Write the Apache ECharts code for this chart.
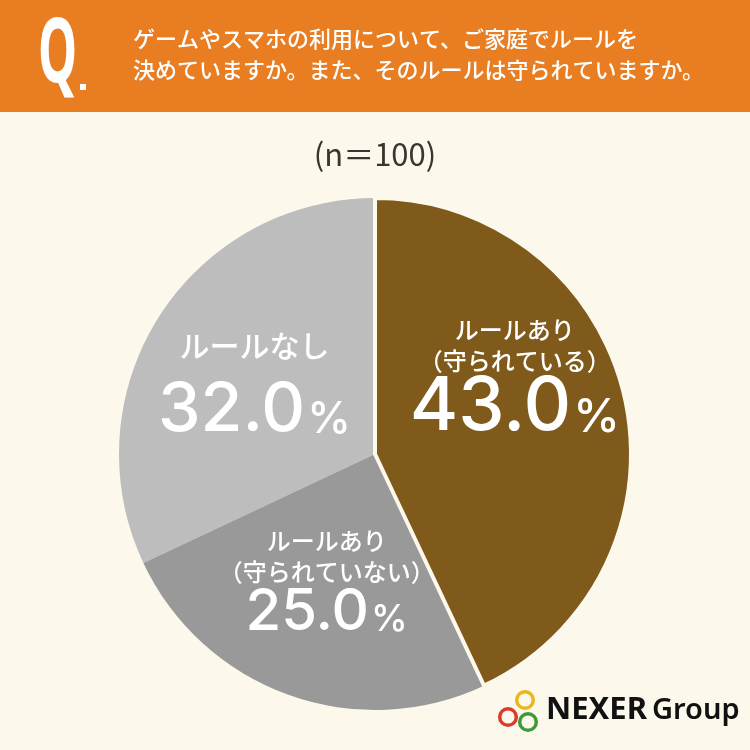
<!DOCTYPE html>
<html>
<head>
<meta charset="utf-8">
<script src="https://cdn.jsdelivr.net/npm/echarts@6/dist/echarts.min.js"></script>
<style>
  html, body { margin: 0; padding: 0; background: #fdf8ec; }
  #main { width: 750px; height: 750px; }
</style>
</head>
<body>
<div id="main"></div>
<script>
// data (drawn counterclockwise from 12 o'clock so the brown slice is painted last)
const names = ['ルールなし', 'ルールあり\n（守られていない）', 'ルールあり\n（守られている）'];
const values = [32.0, 25.0, 43.0];
const colors = ['#bdbdbd', '#999999', '#7f5a1a'];
const questionLines = ['ゲームやスマホの利用について、ご家庭でルールを', '決めていますか。また、そのルールは守られていますか。'];
const sampleText = '(n＝100)';

const BG = '#fdf8ec';
const JP = '"Noto Sans CJK JP", "Noto Sans", sans-serif';
const NUM = 'Inter, "Noto Sans", sans-serif';

// per slice label tweaks
const labelOffsets = [[-10, 2], [-4, 6], [12, -46]];
const nameSize = [30, 24, 24];
const nameLine = [38, 31, 31];
const numSize = [68, 58, 74];
const numLine = [80, 54, 68];
const pctSize = [44, 37, 47];

const chart = echarts.init(document.getElementById('main'));

const seriesData = values.map((v, i) => {
  const nameLines = names[i].split('\n').map(s => '{n' + i + '|' + s + '}').join('\n');
  return {
    name: names[i],
    value: v,
    itemStyle: i === 2
      ? { color: colors[i], borderColor: BG, borderWidth: 4 }
      : { color: colors[i], borderWidth: 0 },
    label: {
      offset: labelOffsets[i],
      formatter: nameLines + '\n{v' + i + '|' + v.toFixed(1) + '}{p' + i + '|%}',
      rich: {
        ['n' + i]: { fontSize: nameSize[i], lineHeight: nameLine[i], color: '#fff', fontFamily: JP, fontWeight: 500 },
        ['v' + i]: { fontSize: numSize[i], lineHeight: numLine[i], color: '#fff', fontFamily: NUM, fontWeight: 500, verticalAlign: 'bottom' },
        ['p' + i]: { fontSize: pctSize[i], lineHeight: numLine[i], color: '#fff', fontFamily: NUM, fontWeight: 500, verticalAlign: 'bottom', padding: [0, 0, 3, 2] }
      }
    }
  };
});

const option = {
  backgroundColor: BG,
  animation: false,
  graphic: [
    { type: 'rect', left: 0, top: 0, shape: { width: 750, height: 112 }, style: { fill: '#e87d22' } },
    { type: 'text', x: 38, y: 11, scaleX: 0.55, style: { text: 'Q', fill: '#fff', font: 'bold 90px "Noto Sans", sans-serif' } },
    { type: 'rect', left: 80, top: 84, shape: { width: 6, height: 6 }, style: { fill: '#fff' } },
    { type: 'text', left: 133, top: 28, style: { text: questionLines[0], fill: '#fff', font: '500 22px ' + JP } },
    { type: 'text', left: 133, top: 59, style: { text: questionLines[1], fill: '#fff', font: '500 22px ' + JP } },
    { type: 'text', left: 'center', top: 139, style: { text: sampleText, fill: '#3a3530', font: '31px ' + JP } },
    // logo
    { type: 'circle', shape: { cx: 525, cy: 700, r: 8.3 }, style: { fill: 'none', stroke: '#e9b61c', lineWidth: 3.5 } },
    { type: 'circle', shape: { cx: 508, cy: 717, r: 8.3 }, style: { fill: 'none', stroke: '#dd3a2c', lineWidth: 3.5 } },
    { type: 'circle', shape: { cx: 528, cy: 722, r: 8.3 }, style: { fill: 'none', stroke: '#3e9a3a', lineWidth: 3.5 } },
    { type: 'text', left: 546, top: 695, style: { text: 'NEXER', fill: '#111', font: 'bold 31px "Noto Sans", sans-serif' } },
    { type: 'text', left: 652, top: 696, style: { text: 'Group', fill: '#111', font: '600 29px "Noto Sans", sans-serif' } }
  ],
  series: [{
    type: 'pie',
    center: [375, 454],
    radius: [0, 256],
    startAngle: 90,
    clockwise: false,
    silent: true,
    label: { show: true, position: 'inside', align: 'center' },
    labelLine: { show: false },
    data: seriesData
  }]
};

chart.setOption(option);
</script>
</body>
</html>
